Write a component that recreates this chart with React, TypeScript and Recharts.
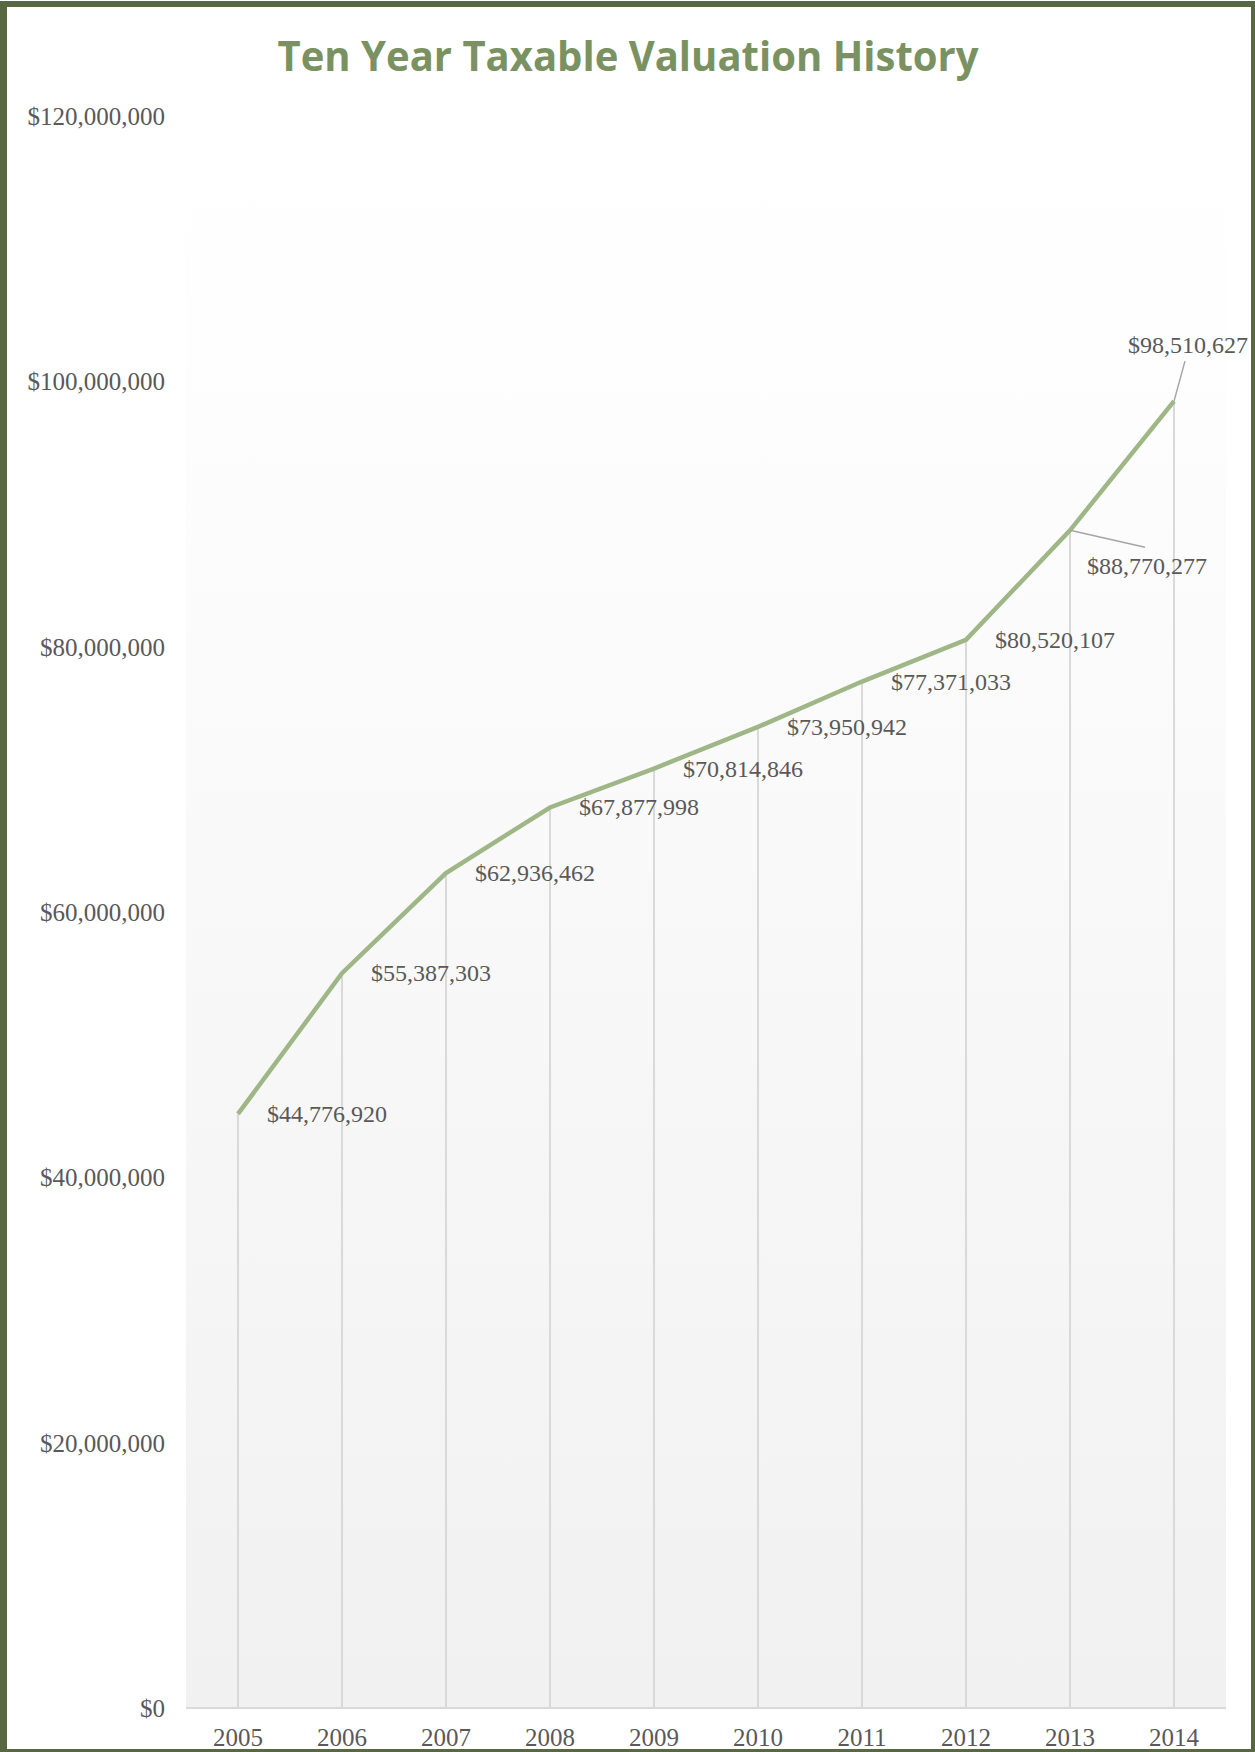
import React from 'react';
import { ComposedChart, Line, Bar, XAxis, YAxis, CartesianGrid, LabelList } from 'recharts';

const years = ['2005', '2006', '2007', '2008', '2009', '2010', '2011', '2012', '2013', '2014'];
const valuations = [44776920, 55387303, 62936462, 67877998, 70814846, 73950942, 77371033, 80520107, 88770277, 98510627];
const yTicks = [0, 20000000, 40000000, 60000000, 80000000, 100000000, 120000000];
const title = 'Ten Year Taxable Valuation History';

const data = years.map((year, i) => ({ year, value: valuations[i] }));

const fmt = (v: number) => '$' + v.toLocaleString('en-US');

const SERIF = '"Liberation Serif", "Times New Roman", serif';
const TEXT_COLOR = '#595959';

const renderLabel = (props: any) => {
  const { x, y, value, index } = props;
  const text = fmt(Number(value));
  if (index === 8) {
    return (
      <g>
        <line x1={x} y1={y} x2={x + 75} y2={y + 17} stroke="#a6a6a6" strokeWidth={1.5} />
        <text x={x + 17} y={y + 36} fill={TEXT_COLOR} fontSize={24} fontFamily={SERIF} textAnchor="start" dominantBaseline="central">{text}</text>
      </g>
    );
  }
  if (index === 9) {
    return (
      <g>
        <line x1={x} y1={y} x2={x + 11} y2={y - 40} stroke="#a6a6a6" strokeWidth={1.5} />
        <text x={x + 14} y={y - 56} fill={TEXT_COLOR} fontSize={24} fontFamily={SERIF} textAnchor="middle" dominantBaseline="central">{text}</text>
      </g>
    );
  }
  return (
    <text x={x + 29} y={y} fill={TEXT_COLOR} fontSize={24} fontFamily={SERIF} textAnchor="start" dominantBaseline="central">{text}</text>
  );
};

export default function App() {
  return (
    <div style={{ position: 'absolute', left: 0, top: 0, width: 1255, height: 1752, background: '#fff', overflow: 'hidden' }}>
      <ComposedChart
        width={1255}
        height={1752}
        data={data}
        margin={{ top: 116, right: 29, bottom: 0, left: 0 }}
      >
        <defs>
          <linearGradient id="plotBg" x1="0" y1="0" x2="0" y2="1">
            <stop offset="0" stopColor="#ffffff" />
            <stop offset="0.13" stopColor="#fefefe" />
            <stop offset="1" stopColor="#f1f1f1" />
          </linearGradient>
        </defs>
        <CartesianGrid fill="url(#plotBg)" stroke="none" horizontal={false} vertical={false} />
        <XAxis
          dataKey="year"
          height={44}
          axisLine={{ stroke: '#d9d9d9', strokeWidth: 2 }}
          tickLine={false}
          tickSize={0}
          tickMargin={20}
          tick={{ fill: TEXT_COLOR, fontSize: 25, fontFamily: SERIF }}
          interval={0}
        />
        <YAxis
          width={186}
          domain={[0, 120000000]}
          ticks={yTicks}
          tickFormatter={fmt}
          axisLine={false}
          tickLine={false}
          tickSize={0}
          tickMargin={21}
          tick={{ fill: TEXT_COLOR, fontSize: 25, fontFamily: SERIF }}
          interval={0}
        />
        <Bar dataKey="value" barSize={2} fill="#d9d9d9" isAnimationActive={false} />
        <Line
          type="linear"
          dataKey="value"
          stroke="#9fb787"
          strokeWidth={4.5}
          dot={false}
          activeDot={false}
          isAnimationActive={false}
        >
          <LabelList dataKey="value" content={renderLabel} />
        </Line>
      </ComposedChart>
      <svg width={1255} height={120} style={{ position: 'absolute', left: 0, top: 0 }}>
        <text x={628} y={71} textAnchor="middle" fill="#7a9162" fontSize={42} fontWeight="bold" textLength={701} lengthAdjust="spacingAndGlyphs" fontFamily='"Open Sans", sans-serif'>{title}</text>
      </svg>
      <div style={{ position: 'absolute', left: 0, top: 1, width: 1255, height: 1751, boxSizing: 'border-box', borderStyle: 'solid', borderColor: '#576843', borderLeftWidth: 7, borderTopWidth: 6, borderRightWidth: 4, borderBottomWidth: 3, pointerEvents: 'none' }} />
    </div>
  );
}
